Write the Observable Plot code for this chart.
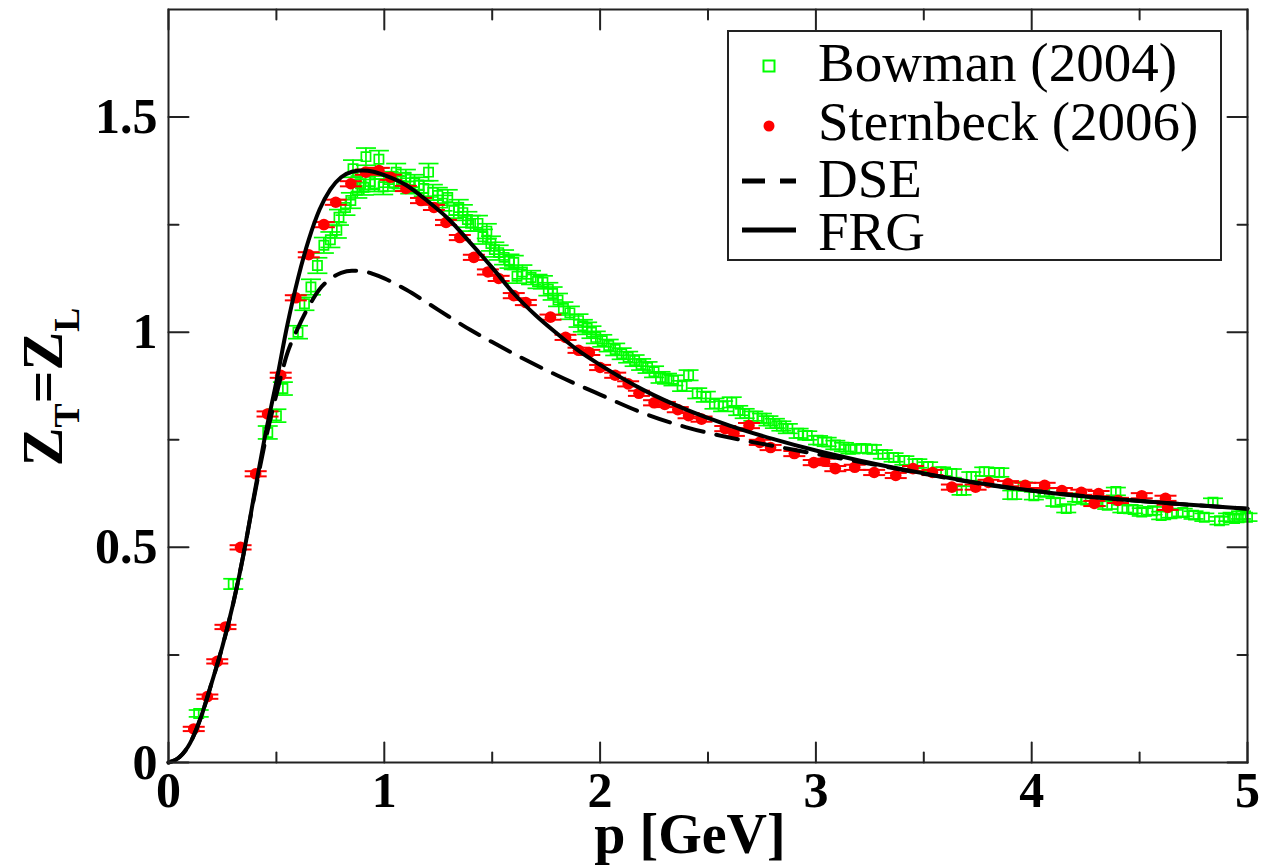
<!DOCTYPE html>
<html><head><meta charset="utf-8">
<script src="https://cdn.jsdelivr.net/npm/d3@7"></script>
<script src="https://cdn.jsdelivr.net/npm/@observablehq/plot@0.6"></script>
<style>
html,body{margin:0;padding:0;background:#fff;overflow:hidden;}
#chart{position:relative;width:1271px;height:867px;}
</style></head><body><div id="chart"></div>
<script>
// Bowman (2004): [p, Z, error]
const bowman = [
[0.14,0.114,0.008],[0.30,0.415,0.012],[0.46,0.767,0.015],[0.50,0.806,0.015],[0.53,0.869,0.015],
[0.60,1.000,0.015],[0.63,1.066,0.015],[0.66,1.105,0.018],[0.69,1.155,0.018],[0.72,1.202,0.018],
[0.75,1.215,0.018],[0.78,1.237,0.018],[0.79,1.267,0.018],[0.82,1.290,0.018],[0.845,1.306,0.018],
[0.855,1.380,0.02],[0.875,1.330,0.018],[0.89,1.345,0.018],[0.905,1.337,0.018],[0.915,1.408,0.02],
[0.935,1.350,0.018],[0.955,1.345,0.018],[0.975,1.402,0.02],[0.995,1.338,0.018],[1.02,1.355,0.018],
[1.045,1.346,0.018],[1.055,1.372,0.02],[1.08,1.352,0.018],[1.10,1.360,0.018],[1.12,1.340,0.018],
[1.14,1.348,0.018],[1.16,1.342,0.018],[1.183,1.334,0.018],[1.205,1.372,0.02],[1.225,1.325,0.018],
[1.248,1.318,0.018],[1.27,1.300,0.018],[1.294,1.313,0.018],[1.322,1.283,0.018],[1.345,1.290,0.018],
[1.364,1.278,0.018],[1.385,1.262,0.018],[1.40,1.253,0.018],[1.434,1.253,0.018],[1.457,1.222,0.017],
[1.475,1.235,0.017],[1.494,1.206,0.017],[1.51,1.192,0.017],[1.53,1.185,0.017],[1.555,1.174,0.017],
[1.58,1.165,0.016],[1.60,1.162,0.016],[1.615,1.130,0.016],[1.64,1.140,0.016],[1.68,1.127,0.016],
[1.71,1.118,0.016],[1.735,1.116,0.015],[1.76,1.100,0.015],[1.78,1.090,0.015],[1.805,1.075,0.015],
[1.83,1.055,0.015],[1.86,1.045,0.015],[1.90,1.027,0.015],[1.92,1.015,0.014],[1.94,1.009,0.014],
[1.96,1.000,0.014],[1.98,0.988,0.014],[2.01,0.980,0.014],[2.04,0.969,0.014],[2.07,0.960,0.014],
[2.10,0.950,0.013],[2.13,0.942,0.013],[2.16,0.934,0.013],[2.19,0.925,0.013],[2.22,0.918,0.013],
[2.25,0.908,0.013],[2.28,0.895,0.013],[2.31,0.892,0.012],[2.34,0.888,0.012],[2.38,0.875,0.012],
[2.41,0.900,0.012],[2.45,0.858,0.012],[2.49,0.850,0.012],[2.53,0.834,0.012],[2.57,0.828,0.012],
[2.61,0.837,0.012],[2.64,0.818,0.011],[2.67,0.811,0.011],[2.71,0.805,0.011],[2.75,0.800,0.011],
[2.78,0.794,0.011],[2.81,0.788,0.011],[2.84,0.782,0.011],[2.87,0.776,0.011],[2.92,0.765,0.011],
[2.96,0.760,0.010],[3.01,0.749,0.010],[3.05,0.745,0.010],[3.09,0.738,0.010],[3.13,0.733,0.010],
[3.16,0.728,0.010],[3.21,0.730,0.010],[3.26,0.728,0.010],[3.31,0.716,0.010],[3.36,0.709,0.010],
[3.41,0.702,0.010],[3.47,0.695,0.010],[3.52,0.688,0.010],[3.58,0.676,0.010],[3.63,0.672,0.010],
[3.675,0.632,0.010],[3.72,0.665,0.010],[3.78,0.676,0.010],[3.85,0.674,0.010],[3.91,0.622,0.010],
[3.96,0.642,0.009],[4.01,0.620,0.009],[4.06,0.628,0.009],[4.11,0.605,0.009],[4.16,0.590,0.009],
[4.21,0.615,0.009],[4.25,0.610,0.009],[4.30,0.605,0.009],[4.35,0.598,0.009],[4.39,0.630,0.009],
[4.42,0.590,0.009],[4.47,0.588,0.009],[4.51,0.582,0.009],[4.56,0.585,0.009],[4.60,0.574,0.009],
[4.65,0.578,0.009],[4.70,0.581,0.009],[4.75,0.575,0.009],[4.80,0.570,0.009],[4.84,0.605,0.009],
[4.87,0.562,0.009],[4.91,0.570,0.009],[4.94,0.567,0.009],[4.97,0.575,0.009],[5.00,0.570,0.009]
];
// Sternbeck (2006): [p, Z, error]
const sternbeck = [
[0.117,0.078,0.005],[0.18,0.153,0.005],[0.226,0.235,0.005],[0.264,0.315,0.005],[0.334,0.500,0.005],
[0.404,0.671,0.006],[0.459,0.810,0.006],[0.52,0.900,0.006],[0.59,1.080,0.006],[0.65,1.180,0.006],
[0.72,1.250,0.006],[0.775,1.302,0.006],[0.845,1.345,0.006],[0.914,1.372,0.006],[0.975,1.376,0.006],
[1.03,1.360,0.006],[1.10,1.334,0.006],[1.17,1.306,0.006],[1.23,1.290,0.006],[1.286,1.255,0.006],
[1.35,1.220,0.006],[1.415,1.174,0.006],[1.48,1.140,0.006],[1.53,1.125,0.006],[1.60,1.085,0.006],
[1.656,1.069,0.006],[1.77,1.035,0.006],[1.84,0.988,0.006],[1.90,0.958,0.006],[1.95,0.953,0.006],
[2.00,0.918,0.006],[2.07,0.900,0.006],[2.13,0.880,0.006],[2.18,0.858,0.006],[2.25,0.836,0.006],
[2.30,0.832,0.006],[2.36,0.820,0.006],[2.41,0.806,0.006],[2.47,0.798,0.006],[2.58,0.776,0.006],
[2.62,0.765,0.006],[2.69,0.783,0.006],[2.74,0.744,0.006],[2.79,0.732,0.006],[2.90,0.718,0.006],
[2.99,0.697,0.006],[3.04,0.700,0.006],[3.09,0.683,0.006],[3.18,0.686,0.006],[3.27,0.674,0.006],
[3.37,0.667,0.006],[3.45,0.683,0.006],[3.54,0.674,0.006],[3.63,0.640,0.006],[3.74,0.640,0.006],
[3.80,0.651,0.006],[3.89,0.648,0.006],[3.97,0.644,0.006],[4.06,0.644,0.006],[4.14,0.632,0.006],
[4.23,0.628,0.006],[4.29,0.602,0.006],[4.31,0.625,0.006],[4.40,0.609,0.006],[4.51,0.620,0.006],
[4.62,0.614,0.006],[4.63,0.593,0.006]
];
// FRG (solid) and DSE (dashed) curves: [p, Z]
const frgCurve = [
[0,0],[0.05,0.012],[0.1,0.045],[0.15,0.105],[0.2,0.185],[0.25,0.27],[0.3,0.37],[0.35,0.49],
[0.4,0.63],[0.45,0.765],[0.5,0.885],[0.55,1.015],[0.6,1.125],[0.65,1.215],[0.7,1.285],[0.75,1.332],
[0.8,1.36],[0.85,1.373],[0.9,1.376],[0.95,1.373],[1.0,1.365],[1.1,1.342],[1.2,1.305],[1.3,1.262],
[1.4,1.207],[1.5,1.15],[1.6,1.09],[1.7,1.04],[1.8,0.997],[1.9,0.957],[2.0,0.924],[2.2,0.866],
[2.4,0.82],[2.6,0.783],[2.8,0.752],[3.0,0.725],[3.2,0.702],[3.5,0.672],[3.8,0.646],[4.1,0.626],
[4.4,0.612],[4.7,0.600],[5.0,0.590]
];
const dseCurve = [
[0,0],[0.05,0.012],[0.1,0.045],[0.15,0.105],[0.2,0.185],[0.25,0.27],[0.3,0.37],[0.35,0.49],
[0.4,0.625],[0.45,0.75],[0.5,0.855],[0.55,0.95],[0.6,1.01],[0.65,1.06],[0.7,1.1],[0.75,1.124],
[0.8,1.138],[0.85,1.143],[0.9,1.142],[0.95,1.135],[1.0,1.125],[1.1,1.099],[1.2,1.068],[1.3,1.036],
[1.4,1.005],[1.5,0.977],[1.6,0.95],[1.8,0.9],[2.0,0.855],[2.2,0.812],[2.4,0.779],[2.6,0.755],
[2.8,0.736],[3.0,0.717],[3.2,0.699],[3.5,0.671],[3.8,0.645],[4.1,0.626],[4.4,0.612],[4.7,0.600],[5.0,0.590]
];
const xMajor = [0,1,2,3,4,5];
const xMinor = [0.5,1.5,2.5,3.5,4.5];
const yMajor = [0,0.5,1,1.5];
const yMinor = [0.25,0.75,1.25];
const legendLabels = ["Bowman (2004)","Sternbeck (2006)","DSE","FRG"];
const xTitle = "p [GeV]";

const GREEN = "#00ff00", RED = "#ff0000";
const tickShape = {draw(ctx, l){ ctx.moveTo(0,0); ctx.lineTo(0,-l); }};
const hline = {draw(ctx, size){ const r = Math.sqrt(size/Math.PI); ctx.moveTo(-r,0); ctx.lineTo(r,0); }};

function errMarks(data, color, capR, sw){
  return [
    Plot.ruleX(data, {x: d=>d[0], y1: d=>d[1]-d[2], y2: d=>d[1]+d[2], stroke: color, strokeWidth: sw}),
    Plot.dot(data, {x: d=>d[0], y: d=>d[1]-d[2], symbol: hline, r: capR, stroke: color, fill: "none", strokeWidth: sw}),
    Plot.dot(data, {x: d=>d[0], y: d=>d[1]+d[2], symbol: hline, r: capR, stroke: color, fill: "none", strokeWidth: sw})
  ];
}
function tickMarks(vals, dim, anchor, rotate, len){
  const o = {frameAnchor: anchor, length: len, rotate, anchor: "start", shape: tickShape, stroke: "#222", strokeWidth: 2};
  o[dim] = d=>d;
  return Plot.vector(vals, o);
}

const svg = Plot.plot({
  width: 1271, height: 867,
  marginLeft: 168, marginRight: 24, marginTop: 9, marginBottom: 105,
  x: {domain: [0,5]}, y: {domain: [0,1.75]},
  style: {fontFamily: "'Liberation Serif','Times New Roman',serif", fontSize: "50px", fontWeight: "bold", color: "#000", background: "#fff", overflow: "visible"},
  marks: [
    ...errMarks(bowman, GREEN, 10, 1.7),
    Plot.dot(bowman, {x: d=>d[0], y: d=>d[1], symbol: "square", r: 5.2, stroke: GREEN, fill: "none", strokeWidth: 1.7}),
    ...errMarks(sternbeck, RED, 11, 2),
    Plot.dot(sternbeck, {x: d=>d[0], y: d=>d[1], r: 5.8, fill: RED, stroke: "none"}),
    Plot.line(dseCurve, {x: d=>d[0], y: d=>d[1], stroke: "#000", strokeWidth: 4, strokeDasharray: "22,13", curve: "monotone-x"}),
    Plot.line(frgCurve, {x: d=>d[0], y: d=>d[1], stroke: "#000", strokeWidth: 4, curve: "monotone-x"}),
    tickMarks(xMajor, "x", "bottom", 0, 20),
    tickMarks(xMinor, "x", "bottom", 0, 10),
    tickMarks(xMajor, "x", "top", 180, 20),
    tickMarks(xMinor, "x", "top", 180, 10),
    tickMarks(yMajor, "y", "left", 90, 20),
    tickMarks(yMinor, "y", "left", 90, 10),
    tickMarks(yMajor, "y", "right", -90, 20),
    tickMarks(yMinor, "y", "right", -90, 10),
    Plot.frame({stroke: "#222", strokeWidth: 2}),
    Plot.axisX({ticks: xMajor, tickSize: 0, tickPadding: 9, label: null, tickFormat: d=>String(d)}),
    Plot.axisY({ticks: yMajor, tickSize: 0, tickPadding: 11, label: null, tickFormat: d=>String(d)})
  ]
});

const s = d3.select(svg);
const FONT = "'Liberation Serif','Times New Roman',serif";
// x-axis title
s.append("text").attr("x", 690).attr("y", 853).attr("text-anchor", "middle")
  .attr("font-family", FONT).attr("font-size", 56).attr("font-weight", "bold").text(xTitle);
// y-axis title Z_T = Z_L
const yt = s.append("text").attr("transform", "translate(62,387) rotate(-90)").attr("text-anchor", "middle")
  .attr("font-family", FONT).attr("font-size", 58).attr("font-weight", "bold");
yt.append("tspan").text("Z");
yt.append("tspan").attr("font-size", 36).attr("dy", 17).text("T");
yt.append("tspan").attr("dy", -17).text("=");
yt.append("tspan").text("Z");
yt.append("tspan").attr("font-size", 36).attr("dy", 17).text("L");

// legend
const lg = s.append("g");
lg.append("rect").attr("x", 728).attr("y", 31).attr("width", 493).attr("height", 229)
  .attr("fill", "#fff").attr("stroke", "#222").attr("stroke-width", 2);
lg.append("rect").attr("x", 763.5).attr("y", 60.5).attr("width", 11).attr("height", 11)
  .attr("fill", "none").attr("stroke", GREEN).attr("stroke-width", 2);
lg.append("circle").attr("cx", 769).attr("cy", 126).attr("r", 5.5).attr("fill", RED);
lg.append("line").attr("x1", 742).attr("x2", 796).attr("y1", 181).attr("y2", 181)
  .attr("stroke", "#000").attr("stroke-width", 5).attr("stroke-dasharray", "23,15");
lg.append("line").attr("x1", 742).attr("x2", 796).attr("y1", 230).attr("y2", 230)
  .attr("stroke", "#000").attr("stroke-width", 5);
const baselines = [81, 140, 197, 250];
legendLabels.forEach((t, i) => {
  lg.append("text").attr("x", 818).attr("y", baselines[i]).attr("text-anchor", "start")
    .attr("font-family", FONT).attr("font-size", 55).attr("font-weight", "normal").text(t);
});

document.getElementById("chart").appendChild(svg);
</script>
</body></html>
